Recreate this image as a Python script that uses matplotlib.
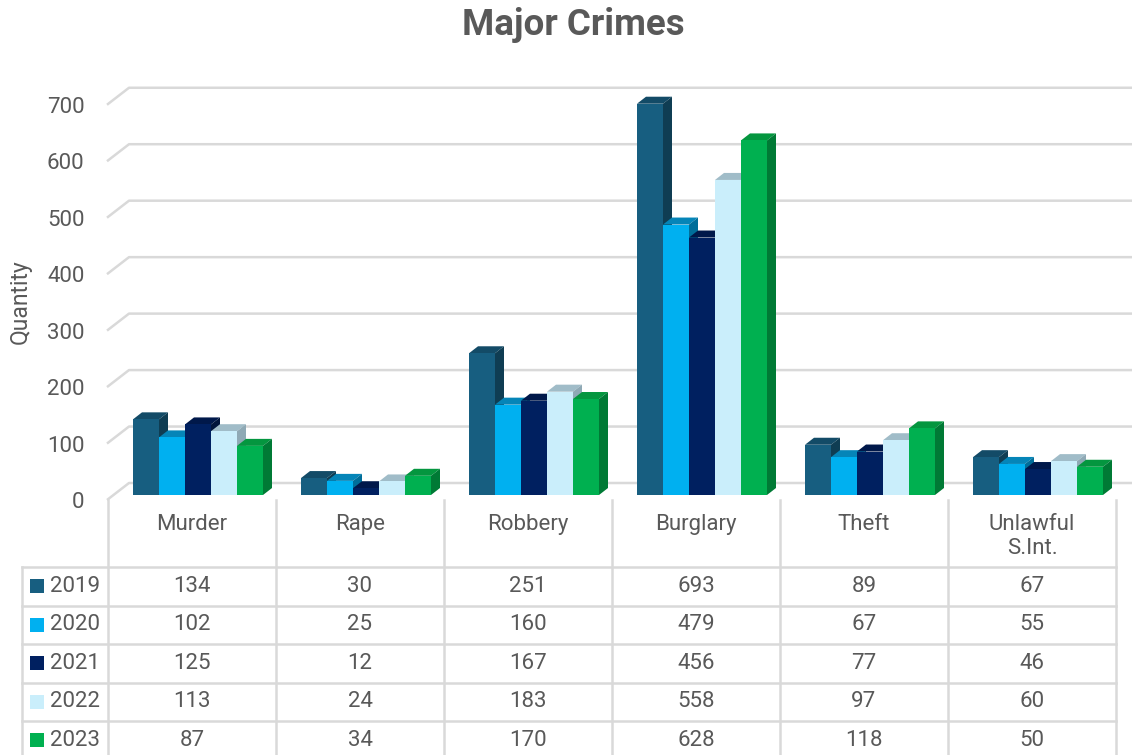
import numpy as np
import matplotlib
matplotlib.use("Agg")
import matplotlib.pyplot as plt
from matplotlib.patches import Polygon
from matplotlib.transforms import ScaledTranslation

plt.rcParams['font.family'] = ['Roboto', 'DejaVu Sans']

# data
categories = ["Murder", "Rape", "Robbery", "Burglary", "Theft", "Unlawful\nS.Int."]
years = ["2019", "2020", "2021", "2022", "2023"]
v2019 = [134, 30, 251, 693, 89, 67]
v2020 = [102, 25, 160, 479, 67, 55]
v2021 = [125, 12, 167, 456, 77, 46]
v2022 = [113, 24, 183, 558, 97, 60]
v2023 = [87, 34, 170, 628, 118, 50]
series = [v2019, v2020, v2021, v2022, v2023]
yticks = [0, 100, 200, 300, 400, 500, 600, 700]

# face colours: front, top, side
front_c = ["#175E80", "#00B0F0", "#002060", "#CAEEFB", "#00B050"]
top_c = ["#134B67", "#0585B8", "#00184A", "#A0BCC8", "#04963F"]
side_c = ["#0F3D53", "#006E9A", "#00143A", "#8FA9B5", "#007A35"]

TXT = "#595959"
GRID = "#D9D9D9"
W, H = 1132, 755
fig = plt.figure(figsize=(W / 100, H / 100), dpi=100)

# chart axes: x in category units, y in value units
x0, x1 = 108, 1116          # pixel span of the 6 categories
y0, ytop = 495, 80          # pixel of value 0 and top of axes
ymax = 735
ax = fig.add_axes([x0 / W, (H - y0) / H, (x1 - x0) / W, (y0 - ytop) / H])
ax.set_xlim(-0.5, len(categories) - 0.5)
ax.set_ylim(0, ymax)
for s in ax.spines.values():
    s.set_visible(False)
ax.set_xticks([])

px_x = 1.0 / ((x1 - x0) / len(categories))   # units per pixel (x)
px_y = ymax / (y0 - ytop)                      # units per pixel (y)

# gridlines: slanted floor part + back wall
for v in yticks:
    fx, fy = -0.5 - 1 * px_x, v - 5 * px_y
    bx, by = -0.5 + 21 * px_x, v + 12 * px_y
    ex = -0.5 + (W - x0) * px_x
    ax.plot([fx, bx, ex], [fy, by, by], color=GRID, lw=1.8, zorder=1,
            clip_on=False, solid_capstyle='butt')

# y tick labels
ax.set_yticks(yticks)
ax.set_yticklabels([str(v) for v in yticks])
ax.tick_params(axis='y', length=0, pad=17, labelsize=16, labelcolor=TXT)
for lab in ax.get_yticklabels():
    lab.set_transform(lab.get_transform() + ScaledTranslation(0, -5 / 100, fig.dpi_scale_trans))
ax.set_ylabel("Quantity", fontsize=16.5, color=TXT)
ax.yaxis.set_label_coords((32 - x0) / (x1 - x0), (y0 - 302) / (y0 - ytop))

# 3-D looking columns
bw = 26 * px_x
dx, dy = 9 * px_x, 7 * px_y
start = 25 * px_x
for j, vals in enumerate(series):
    z = 3 + 3 * j
    lefts = [i - 0.5 + start + j * bw for i in range(len(categories))]
    ax.bar(lefts, vals, width=bw, align='edge', color=front_c[j], lw=0, zorder=z + 2)
    for l, h in zip(lefts, vals):
        ax.add_patch(Polygon([(l, h), (l + dx, h + dy), (l + bw + dx, h + dy), (l + bw, h)],
                             closed=True, fc=top_c[j], lw=0, zorder=z))
        ax.add_patch(Polygon([(l + bw, 0), (l + bw, h), (l + bw + dx, h + dy), (l + bw + dx, dy)],
                             closed=True, fc=side_c[j], lw=0, zorder=z + 1))

# title
fig.text(573 / W, 1 - 25 / H, "Major Crimes", ha='center', va='center',
         fontsize=26.5, fontweight='bold', color=TXT)

# data table below the chart (x in category units, y in pixels from top)
tt = 500
tax = fig.add_axes([x0 / W, 0, (x1 - x0) / W, (H - tt) / H])
tax.set_xlim(-0.5, len(categories) - 0.5)
tax.set_ylim(H - tt, 0)
tax.axis('off')
head_h, row_h = 67, 38.5
left_edge = -0.5 - (x0 - 22) * px_x
n = len(categories)
bottom = head_h + row_h * len(years)
lkw = dict(color=GRID, lw=1.8, clip_on=False, zorder=1)
for i in range(n + 1):
    tax.plot([i - 0.5, i - 0.5], [0, bottom], **lkw)
tax.plot([left_edge, left_edge], [head_h, bottom], **lkw)
for k in range(len(years) + 1):
    yy = head_h + k * row_h
    tax.plot([left_edge, n - 0.5], [yy, yy], **lkw)

for i, c in enumerate(categories):
    tax.text(i, 14, c, ha='center', va='top', fontsize=16, color=TXT)

for k, (yr, vals) in enumerate(zip(years, series)):
    yc = head_h + (k + 0.5) * row_h
    tax.scatter([-0.5 - 71 * px_x], [yc], marker='s', s=14 ** 2 * 0.52,
                color=front_c[k], lw=0, clip_on=False, zorder=3)
    tax.text(-0.5 - 58 * px_x, yc, yr, ha='left', va='center', fontsize=16, color=TXT)
    for i, v in enumerate(vals):
        tax.text(i, yc, str(v), ha='center', va='center', fontsize=16, color=TXT)

fig.savefig("out.png", dpi=100, facecolor='white')
